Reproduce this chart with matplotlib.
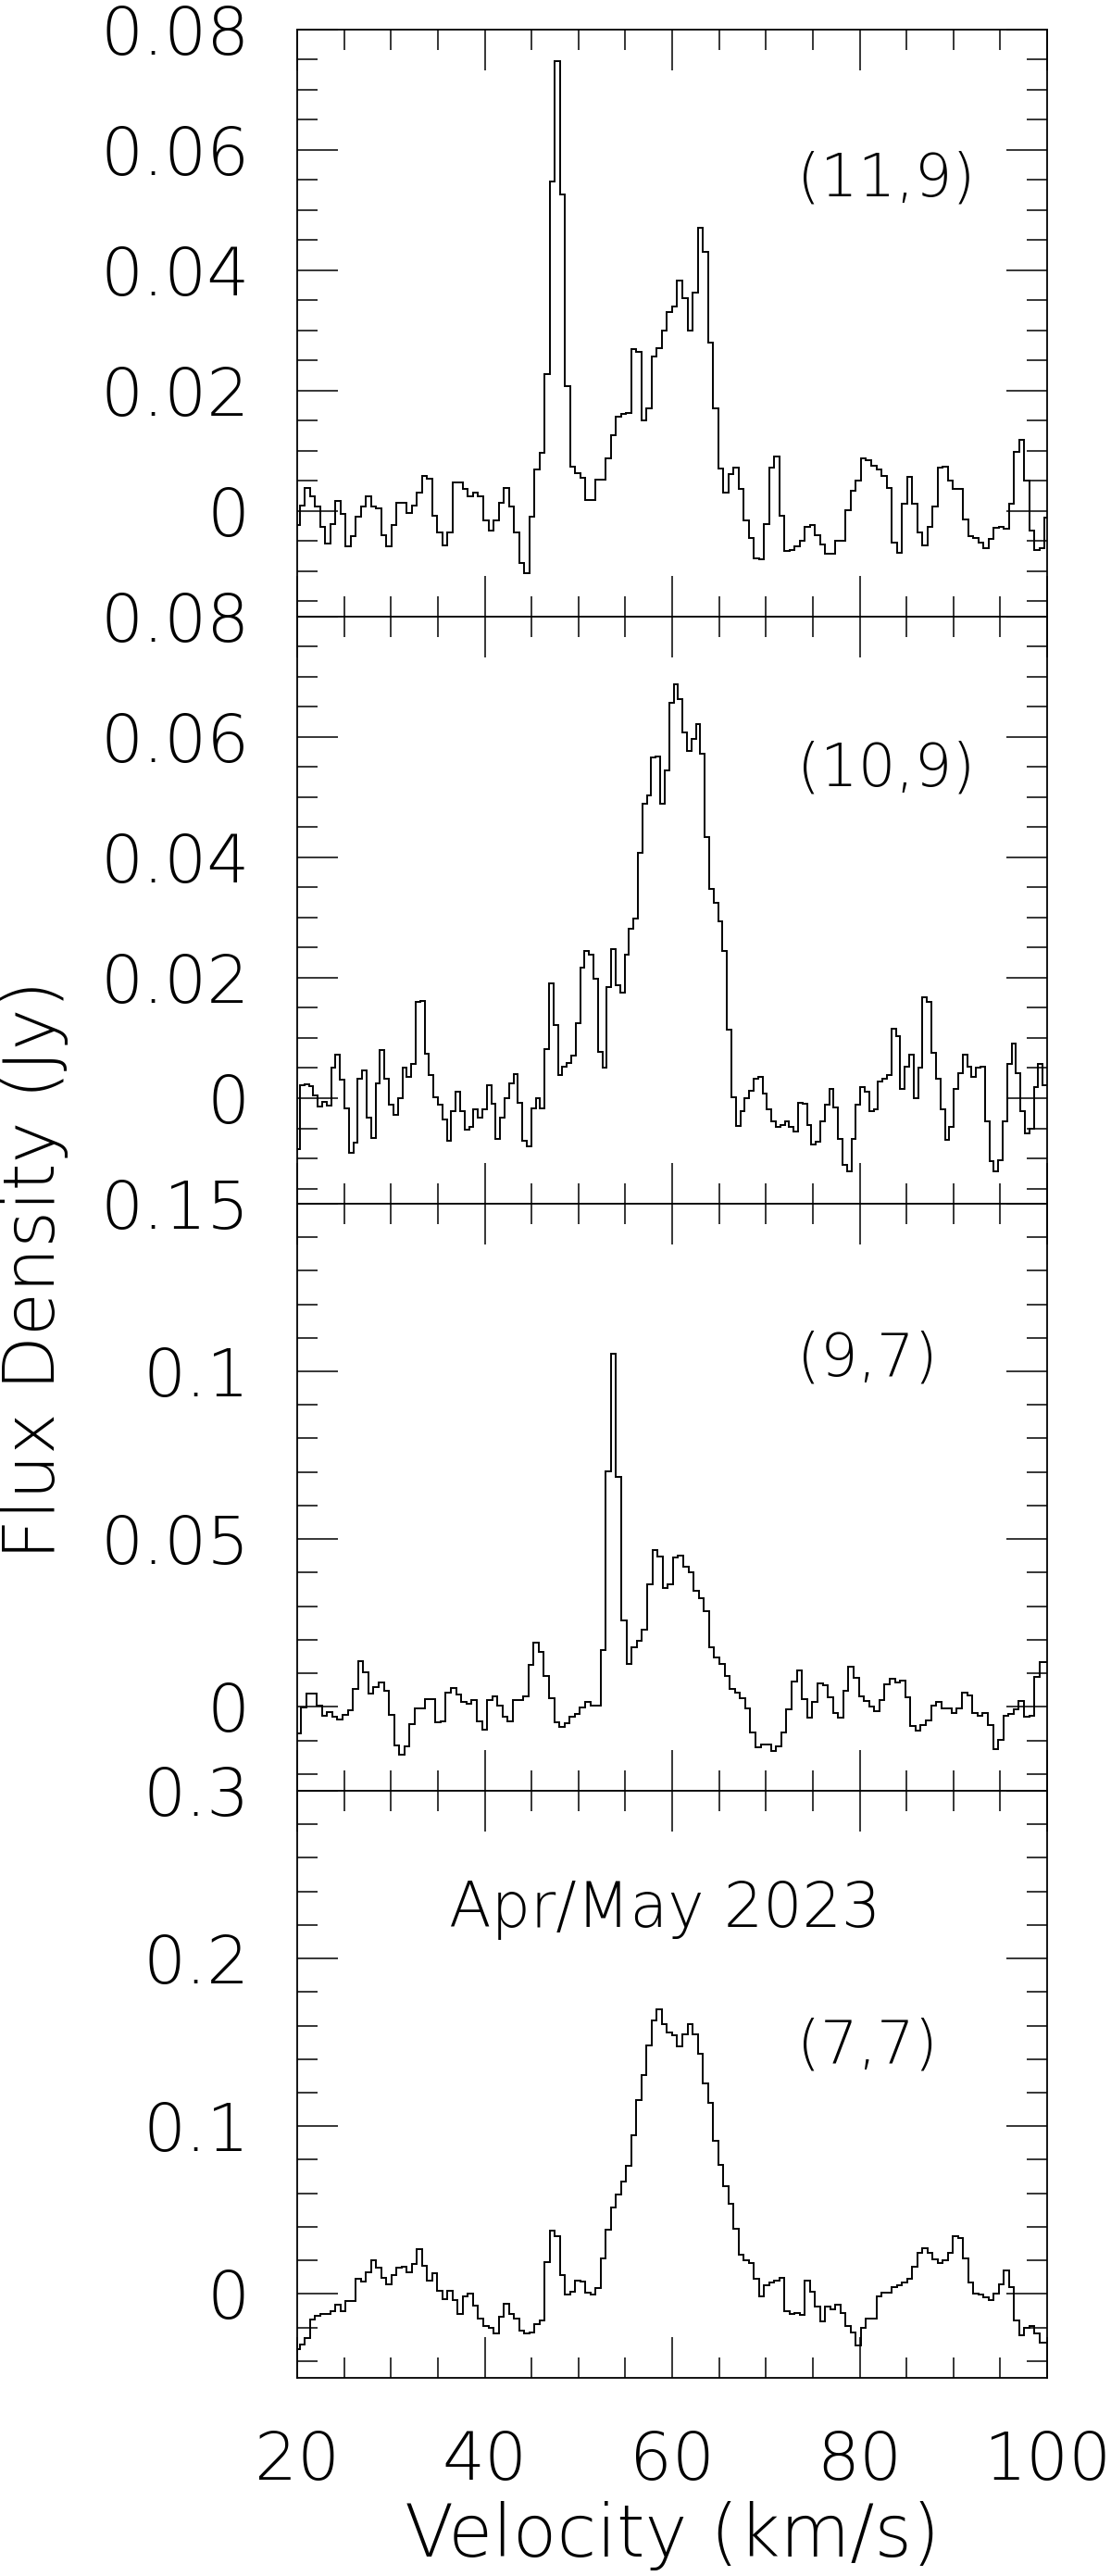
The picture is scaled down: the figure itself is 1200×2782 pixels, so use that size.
import numpy as np
import matplotlib
matplotlib.use("Agg")
import matplotlib.pyplot as plt
from matplotlib import font_manager as fm
from matplotlib.ticker import FixedLocator, MultipleLocator, FuncFormatter, NullFormatter

# ---------------- data (flux density in Jy per channel) ----------------
# (11,9): channel grid start / width (km/s)
start_11_9 = 19.7055
width_11_9 = 0.5445
flux_11_9 = [
    -0.0024, 0.0009, 0.0038, 0.0025, 0.0008, -0.0026, -0.0054, -0.0022, 0.0017, -0.0005,
    -0.0058, -0.0042, -0.001, 0.0008, 0.0025, 0.0008, 0.0004, -0.004, -0.0058, -0.0024,
    0.0013, 0.0014, -0.0003, 0.0009, 0.003, 0.0058, 0.0053, -0.0008, -0.0035, -0.0057,
    -0.0035, 0.0047, 0.0047, 0.0036, 0.0025, 0.003, 0.0025, -0.0016, -0.0033, -0.0016,
    0.0014, 0.0038, 0.0008, -0.0036, -0.0086, -0.0103, -0.001, 0.0069, 0.0097, 0.0228,
    0.0547, 0.0747, 0.0525, 0.0207, 0.0074, 0.0063, 0.0055, 0.0018, 0.0019, 0.0052,
    0.0052, 0.0087, 0.0126, 0.0157, 0.0162, 0.0163, 0.0269, 0.0265, 0.0151, 0.0171,
    0.0256, 0.027, 0.030, 0.0331,
    0.0339, 0.0382, 0.0353, 0.030, 0.0363, 0.0471, 0.0431, 0.028, 0.0171, 0.007,
    0.0031, 0.0062, 0.0072, 0.0037, -0.0016, -0.0044, -0.0079, -0.008, -0.0021, 0.0072,
    0.0091, -0.0008, -0.0067, -0.0064, -0.0058, -0.0049, -0.0026, -0.0024, -0.004, -0.0055,
    -0.0071, -0.0071, -0.0049, -0.0049, 0.0001, 0.0033, 0.005, 0.0088, 0.0085, 0.0075,
    0.0069, 0.0058, 0.0039, -0.0052, -0.0069, 0.0012, 0.0057, 0.0012, -0.0036, -0.0057,
    -0.0026, 0.0008, 0.0072, 0.0074, 0.005, 0.0037, 0.0037, -0.0014, -0.0041, -0.0045,
    -0.0053, -0.0062, -0.0046, -0.0028, -0.0027, -0.003, 0.0012, 0.0099, 0.0118, 0.005,
    -0.0033, -0.0064, -0.0062, -0.0011,
]

# (10,9)
start_10_9 = 19.8256
width_10_9 = 0.4744
flux_10_9 = [
    -0.0085,
    0.0022, 0.0023, 0.002, 0.0004, -0.0014, -0.0006, -0.0013, 0.005, 0.0072, 0.003,
    -0.0017, -0.009, -0.0074, 0.0033, 0.0046, -0.0033, -0.0066, 0.0024, 0.008, 0.0033,
    -0.0011, -0.0028, 0.0, 0.005, 0.0036, 0.0057, 0.016, 0.0162, 0.0074, 0.0038,
    0.0002, -0.0011, -0.0036, -0.007, -0.0022, 0.0011, -0.0021, -0.0053, -0.0047, -0.0019,
    -0.0033, -0.0019, 0.0021, -0.0009, -0.0067, -0.0033, 0.0, 0.0025, 0.004, -0.0008,
    -0.0071, -0.008, -0.0017, 0.0, -0.0017, 0.0082, 0.019, 0.0121, 0.0038, 0.0053,
    0.0058, 0.0071, 0.0125, 0.0217, 0.0245, 0.0238, 0.0199, 0.0077, 0.005, 0.0184,
    0.0247, 0.0187, 0.0175, 0.0239, 0.0281, 0.0299, 0.0407, 0.0489, 0.0503, 0.0566,
    0.0567, 0.0489, 0.0544, 0.0656,
    0.0687, 0.0662, 0.0607, 0.0577, 0.0596, 0.0621, 0.0572, 0.0434, 0.0348, 0.0325,
    0.0294, 0.0245, 0.0113, 0.0002, -0.0046, -0.0021, 0.0, 0.0013, 0.0033, 0.0036,
    0.0008, -0.0019, -0.0038, -0.0048, -0.0044, -0.0039, -0.0047, -0.0055, -0.0008, -0.0009,
    -0.0044, -0.0077, -0.0072, -0.0038, -0.0011, 0.0016, -0.0016, -0.0068, -0.0111, -0.0121,
    -0.0068, -0.0011, 0.0018, 0.0011, -0.0022, -0.0019, 0.0027, 0.0033, 0.0038, 0.0115,
    0.0103, 0.0016, 0.0053, 0.0072, 0.0, 0.005, 0.0167, 0.016, 0.0075, 0.0033,
    -0.0019, -0.0069, -0.0048, 0.0016, 0.0041, 0.0072, 0.0053, 0.0036, 0.005, 0.0053,
    -0.0038, -0.0104, -0.0121, -0.0103, -0.0038, 0.0057, 0.009, 0.0041, -0.0021, -0.0058,
    -0.005, 0.0019, 0.0057, 0.0022,
]

# (9,7)
start_9_7 = 19.88
width_9_7 = 0.5507
flux_9_7 = [
    -0.008,
    -0.0002, 0.004, 0.004, 0.0005, -0.0027, -0.0016, -0.003, -0.0039, -0.0025, -0.0009,
    0.0053, 0.0136, 0.0104, 0.004, 0.0058, 0.0072, 0.0049, -0.0023, -0.0115, -0.0143,
    -0.0117, -0.0052, -0.0006, -0.0006, 0.0023, 0.0023, -0.0045, -0.0043, 0.0041, 0.0055,
    0.0037, 0.0014, 0.001, 0.0021, -0.0043, -0.0069, 0.0019, 0.003, 0.0003, -0.003,
    -0.0043, 0.0021, 0.0021, 0.003, 0.0125, 0.0192, 0.0164, 0.0093, 0.0026, -0.0045,
    -0.0059, -0.0048, -0.003, -0.002, -0.0002, 0.0015, 0.0005, 0.0005, 0.0169, 0.0703,
    0.1051, 0.0684, 0.0258, 0.0129, 0.0178, 0.0196, 0.0231, 0.0364, 0.0468, 0.0448,
    0.0353, 0.0366,
    0.0444, 0.0452, 0.0417, 0.0401, 0.0347, 0.0324, 0.0286, 0.0178, 0.0147, 0.0127,
    0.0092, 0.0053, 0.0043, 0.0025, -0.0006, -0.0076, -0.012, -0.0113, -0.0111, -0.0131,
    -0.0118, -0.0076, -0.0007, 0.0076, 0.0108, 0.0023, -0.0032, 0.0014, 0.0069, 0.0065,
    0.0028, -0.0018, -0.0032, 0.0049, 0.012, 0.0086, 0.0032, 0.0017, 0.0, -0.0014,
    0.0021, 0.0066, 0.0083, 0.0074, 0.0078, 0.0028, -0.0057, -0.0072, -0.0055, -0.0041,
    0.0003, 0.0016, -0.0005, -0.0005, -0.0018, -0.0005, 0.0043, 0.0035, -0.0018, -0.0026,
    -0.0018, -0.0055, -0.0127, -0.0099, -0.0028, -0.002, -0.0007, 0.0018, -0.003, -0.0026,
    0.0088, 0.0134,
    0.0134,
]

# (7,7)
start_7_7 = 19.7055
width_7_7 = 0.5445
flux_7_7 = [
    -0.033,
    -0.030, -0.026, -0.015, -0.013, -0.012, -0.012, -0.0105, -0.0065, -0.010, -0.004,
    -0.004, 0.009, 0.0074, 0.013, 0.020, 0.0156, 0.0098, 0.006, 0.0115, 0.0156,
    0.0163, 0.0127, 0.018, 0.0266, 0.017, 0.0079, 0.0122, 0.0019, -0.0029, 0.0019,
    -0.0034, -0.0118, -0.0017, 0.0, -0.007, -0.0149, -0.019, -0.0204, -0.0237, -0.0137,
    -0.0058, -0.0118, -0.0149, -0.022, -0.0237, -0.0228, -0.018, -0.0156, 0.0192, 0.0379,
    0.0343, 0.011, -0.0005, 0.0014, 0.0079, 0.0074, 0.0007, -0.0005, 0.0038, 0.0211,
    0.0384, 0.0516, 0.0595, 0.0671, 0.0763, 0.0947, 0.1158, 0.1307, 0.1482, 0.1631,
    0.1698, 0.1609, 0.1561, 0.1542, 0.1475, 0.1547, 0.1609, 0.1549, 0.1434, 0.1254,
    0.1139, 0.0911, 0.0767, 0.0643, 0.054, 0.0391, 0.0235, 0.0199, 0.0187, 0.0091,
    -0.0017, 0.005, 0.0067, 0.0079, 0.0096, -0.0105, -0.012, -0.0113, -0.0125, 0.0079,
    0.0012, -0.0077, -0.0161, -0.0077, -0.0089, -0.0065, -0.0113, -0.0192, -0.0228, -0.0305,
    -0.0201, -0.0149, -0.0149, -0.0017, 0.0007, 0.0007, 0.0043, 0.005, 0.0067, 0.0091,
    0.0163, 0.0247, 0.0271, 0.0247, 0.0206, 0.0187, 0.0199, 0.0247, 0.0343, 0.0331,
    0.0211, 0.0067, 0.0, -0.0005, -0.0022, -0.0036, 0.0, 0.006, 0.0139, 0.0043,
    -0.0156, -0.0245, -0.0204, -0.019, -0.0233, -0.0293,
    -0.0293,
]

line_labels = ["(11,9)", "(10,9)", "(9,7)", "(7,7)"]
y_limits = [(-0.0175, 0.08), (-0.0175, 0.08), (-0.025, 0.15), (-0.05, 0.3)]
y_major = [[0, 0.02, 0.04, 0.06, 0.08], [0, 0.02, 0.04, 0.06, 0.08],
           [0, 0.05, 0.1, 0.15], [0, 0.1, 0.2, 0.3]]
y_minor_step = [0.005, 0.005, 0.01, 0.02]
x_ticks = [20, 40, 60, 80, 100]
epoch_label = "Apr/May 2023"
x_label = "Velocity (km/s)"
y_label = "Flux Density (Jy)"

# ---------------- font: a light sans to mimic thin plot strokes ----------------
def pick_light_font():
    prefs = ["DejaVu Sans", "Open Sans", "Roboto", "Lato", "Noto Sans", "Inter"]
    for fam in prefs:
        best = None
        for f in fm.fontManager.ttflist:
            if f.name != fam or f.style != "normal":
                continue
            w = f.weight
            if not isinstance(w, (int, float)):
                w = fm.weight_dict.get(str(w), 400)
            if w < 400 and (best is None or w < best):
                best = w
        if best is not None:
            return fam, int(best)
    return "DejaVu Sans", 400

fam, wgt = pick_light_font()
plt.rcParams["font.family"] = [fam, "DejaVu Sans"]
plt.rcParams["font.weight"] = wgt
plt.rcParams["axes.labelweight"] = wgt

# ---------------- figure ----------------
W, H = 1200, 2782
fig = plt.figure(figsize=(W / 100, H / 100), dpi=100)

left = 321 / W
width = 810 / W
bottom0 = 1 - 2568 / H
ph = 634.1 / H

series = [
    (flux_11_9, start_11_9, width_11_9),
    (flux_10_9, start_10_9, width_10_9),
    (flux_9_7, start_9_7, width_9_7),
    (flux_7_7, start_7_7, width_7_7),
]
label_y = [0.0524, 0.0519, 0.0987, 0.1377]

for i, (vals, st, wd) in enumerate(series):
    b = bottom0 + (3 - i) * ph
    ax = fig.add_axes([left, b, width, ph])
    vals = np.asarray(vals)
    edges = st + wd * np.arange(len(vals) + 1)
    ax.stairs(vals, edges, baseline=None, color="black", linewidth=1.4)
    ax.set_xlim(20, 100)
    ax.set_ylim(*y_limits[i])

    ax.xaxis.set_major_locator(FixedLocator(x_ticks))
    ax.xaxis.set_minor_locator(MultipleLocator(5))
    ax.yaxis.set_major_locator(FixedLocator(y_major[i]))
    ax.yaxis.set_minor_locator(MultipleLocator(y_minor_step[i]))
    ax.yaxis.set_major_formatter(FuncFormatter(lambda v, p: "%g" % round(v, 4)))
    if i < 3:
        ax.xaxis.set_major_formatter(NullFormatter())
    else:
        ax.xaxis.set_major_formatter(FuncFormatter(lambda v, p: "%d" % v))

    ax.tick_params(which="both", direction="in", top=True, right=True,
                   width=1.1, color="black")
    ax.tick_params(which="major", length=31.5, labelsize=52)
    ax.tick_params(which="minor", length=15.8)
    ax.tick_params(axis="y", which="major", pad=37)
    ax.tick_params(axis="x", which="major", pad=40)
    for sp in ax.spines.values():
        sp.set_linewidth(1.3)

    ax.text(73.3, label_y[i], line_labels[i], fontsize=46, fontweight=wgt,
            ha="left", va="baseline")
    if i == 3:
        ax.text(59.2, 0.2188, epoch_label, fontsize=48, fontweight=wgt,
                ha="center", va="baseline")
        ax.set_xlabel(x_label, fontsize=56, fontweight=wgt, labelpad=6)

fig.text(38 / W, 1 - 1371 / H, y_label, rotation=90, fontsize=55,
         fontweight=wgt, ha="center", va="center")

fig.savefig("out.png", dpi=100)
